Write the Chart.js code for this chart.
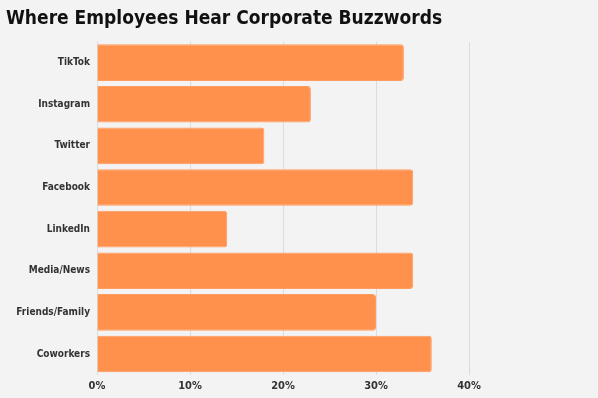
<!DOCTYPE html>
<html>
<head>
<meta charset="utf-8">
<script src="https://cdn.jsdelivr.net/npm/chart.js@4"></script>
<style>
html,body{margin:0;padding:0;background:#f3f3f3;}
#wrap{width:598px;height:398px;position:relative;}
</style>
</head>
<body>
<div id="wrap"><canvas id="c" width="598" height="398"></canvas></div>
<script>
const chartTitle = "Where Employees Hear Corporate Buzzwords";
const categories = ["TikTok","Instagram","Twitter","Facebook","LinkedIn","Media/News","Friends/Family","Coworkers"];
const shares = [33, 23, 18, 34, 14, 34, 30, 36];
const tickValues = [0, 10, 20, 30, 40];

const FONT = "'DejaVu Sans Condensed', sans-serif";

new Chart(document.getElementById('c'), {
  type: 'bar',
  data: {
    labels: categories,
    datasets: [{
      data: shares,
      backgroundColor: '#ff914d',
      borderColor: '#ff9b5e',
      borderWidth: 1,
      borderRadius: 3,
      categoryPercentage: 1,
      barPercentage: 0.88
    }]
  },
  options: {
    indexAxis: 'y',
    responsive: false,
    animation: false,
    devicePixelRatio: 1,
    layout: { padding: { left: 6, right: 129, top: 0, bottom: 0 } },
    plugins: {
      legend: { display: false },
      tooltip: { enabled: false },
      title: {
        display: true,
        text: chartTitle,
        align: 'start',
        color: '#111',
        font: { family: FONT, size: 19, weight: 'bold', lineHeight: 1.2 },
        padding: { top: 8, bottom: 11 }
      }
    },
    scales: {
      x: {
        min: 0, max: 40,
        afterBuildTicks: (axis) => { axis.ticks = tickValues.map(v => ({ value: v })); },
        grid: { color: '#dcdcdc', lineWidth: 1, drawTicks: false },
        border: { display: false },
        ticks: {
          color: '#333',
          padding: 5,
          font: { family: FONT, size: 11, weight: 'bold', lineHeight: 1.2 },
          callback: (v) => v + '%'
        }
      },
      y: {
        afterFit: (axis) => { axis.width = 91; },
        grid: { display: false, drawTicks: false },
        border: { display: false },
        ticks: {
          color: '#333',
          padding: 7,
          font: { family: FONT, size: 10, weight: 'bold' }
        }
      }
    }
  },
  plugins: [{
    id: 'bg',
    beforeDraw(chart) {
      const ctx = chart.ctx;
      ctx.save();
      ctx.fillStyle = '#f3f3f3';
      ctx.fillRect(0, 0, chart.width, chart.height);
      ctx.restore();
    }
  }]
});
</script>
</body>
</html>
